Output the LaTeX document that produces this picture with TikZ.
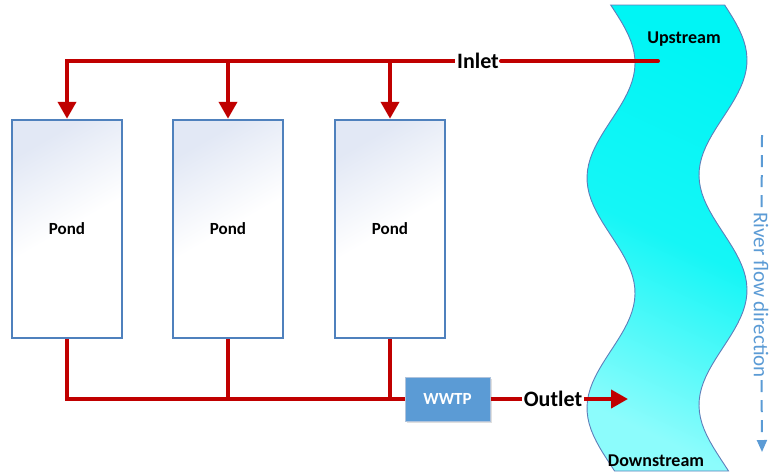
\documentclass[tikz,border=0pt]{standalone}
\usepackage{fontspec}
\setmainfont{Carlito}
\usetikzlibrary{arrows.meta,shadows}
\definecolor{flowred}{RGB}{192,0,0}
\definecolor{pondedge}{RGB}{79,129,189}
\definecolor{pondtop}{RGB}{226,232,245}
\definecolor{accblue}{RGB}{91,155,213}
\definecolor{rivedge}{RGB}{95,125,185}
\definecolor{rivtop}{RGB}{0,245,245}
\definecolor{rivbot}{RGB}{140,252,252}
\definecolor{wwtpedge}{RGB}{175,195,220}
\begin{document}
\begin{tikzpicture}[x=1pt,y=-1pt,
  pond/.style={draw=pondedge, line width=2.5pt, top color=pondtop, bottom color=white, middle color=white, shading angle=30,
    minimum width=110pt, minimum height=218pt, inner sep=0pt, font=\fontsize{17}{20}\selectfont\bfseries},
  pipe/.style={draw=flowred, line width=4pt},
  pipearrow/.style={pipe, -{Triangle[width=18pt,length=17pt]}},
  lbl/.style={font=\fontsize{22}{24}\selectfont\bfseries, inner sep=2pt},
  rivlbl/.style={font=\fontsize{18}{20}\selectfont\bfseries, inner sep=1pt},
  wwtpbox/.style={fill=accblue, draw=wwtpedge, line width=1pt, minimum width=85pt, minimum height=44pt,
    text=white, font=\fontsize{17}{20}\selectfont\bfseries, drop shadow={opacity=0.25, shadow xshift=1.5pt, shadow yshift=-1.5pt}},
  flowdir/.style={draw=accblue, line width=2pt, dash pattern=on 12pt off 8pt}
]
\useasboundingbox (0,0) rectangle (770,475);

% river
\path[draw=rivedge, line width=0.9pt, top color=rivtop, bottom color=rivbot, middle color=rivtop!85!rivbot, shading angle=-25]
  plot[domain=5:471, samples=80, variable=\t] ({611+24*cos(1.5652*(\t-63))}, {\t})
  -- plot[domain=471:5, samples=80, variable=\t] ({723+24*cos(1.5652*(\t-60))}, {\t}) -- cycle;
\node[rivlbl] (up) at (684,39) {Upstream};
\node[rivlbl] (down) at (656,461) {Downstream};

% ponds
\node[pond] (p1) at (67,229) {Pond};
\node[pond] (p2) at (228,229) {Pond};
\node[pond] (p3) at (390,229) {Pond};

% inlet
\coordinate (upend) at (658,61);
\coordinate (j1) at (67,61);
\coordinate (j2) at (228,61);
\coordinate (j3) at (390,61);
\node[lbl] (inlet) at (478,61) {Inlet};
\draw[pipe, line cap=round] (upend) -- (inlet);
\draw[pipearrow] (inlet) -- (j1) -- (p1);
\draw[pipearrow] (j2) -- (p2);
\draw[pipearrow] (j3) -- (p3);

% outlet
\node[wwtpbox] (w) at (447.5,399) {WWTP};
\coordinate (b1) at (67,399);
\coordinate (b2) at (228,399);
\coordinate (b3) at (390,399);
\draw[pipe] (p1) -- (b1) -- (w);
\draw[pipe] (p2) -- (b2);
\draw[pipe] (p3) -- (b3);
\node[lbl, inner sep=1.5pt] (outlet) at (553,399) {Outlet};
\coordinate (outend) at (628,399);
\draw[pipe] (w) -- (outlet);
\draw[pipearrow] (outlet) -- (outend);

% river flow direction
\coordinate (rt) at (762,135);
\coordinate (rb) at (762,452);
\node[rotate=-90, text=accblue, font=\fontsize{21}{23}\selectfont, inner sep=2pt] (rf) at (761,295) {River flow direction};
\draw[flowdir] (rt) -- (rf);
\draw[flowdir, -{Triangle[width=10pt,length=12pt]}] (rf) -- (rb);
\end{tikzpicture}
\end{document}
